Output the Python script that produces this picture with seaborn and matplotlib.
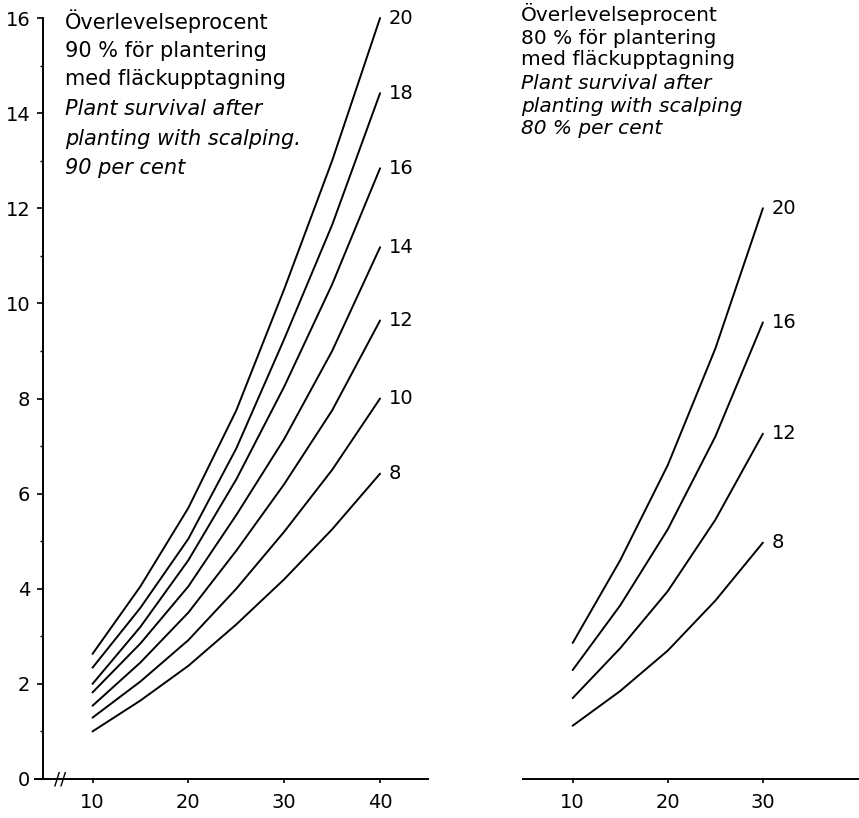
import pandas as pd
import matplotlib.pyplot as plt
import seaborn as sns
from matplotlib.ticker import MultipleLocator

# ==========================================
# data
# ==========================================
X_LEFT = [10, 15, 20, 25, 30, 35, 40]
LEFT_CURVES = {
    20: [2.63, 4.05, 5.70, 7.75, 10.30, 13.00, 16.00],
    18: [2.34, 3.60, 5.05, 6.95, 9.25, 11.65, 14.42],
    16: [2.00, 3.20, 4.60, 6.30, 8.25, 10.40, 12.84],
    14: [1.82, 2.85, 4.05, 5.55, 7.15, 9.00, 11.18],
    12: [1.54, 2.45, 3.50, 4.80, 6.20, 7.75, 9.64],
    10: [1.29, 2.05, 2.92, 4.00, 5.20, 6.50, 8.00],
    8: [1.00, 1.65, 2.38, 3.25, 4.20, 5.25, 6.42],
}

X_RIGHT = [10, 15, 20, 25, 30]
RIGHT_CURVES = {
    20: [2.86, 4.60, 6.60, 9.05, 12.00],
    16: [2.29, 3.65, 5.25, 7.20, 9.60],
    12: [1.70, 2.75, 3.95, 5.45, 7.26],
    8: [1.12, 1.85, 2.70, 3.75, 4.97],
}

LEFT_TEXT = ["Överlevelseprocent", "90 % för plantering", "med fläckupptagning",
             "Plant survival after", "planting with scalping.", "90 per cent"]
RIGHT_TEXT = ["Överlevelseprocent", "80 % för plantering", "med fläckupptagning",
              "Plant survival after", "planting with scalping", "80 % per cent"]
ITALIC = [False, False, False, True, True, True]

LEFT_XTICKS = [10, 20, 30, 40]
RIGHT_XTICKS = [10, 20, 30]
YTICKS = [0, 2, 4, 6, 8, 10, 12, 14, 16]

# ==========================================
# style
# ==========================================
sns.set_theme(style="white")
plt.rcParams['font.family'] = ['DejaVu Sans']
plt.rcParams['axes.linewidth'] = 1.4
for k in ['text.color', 'axes.labelcolor', 'xtick.color', 'ytick.color', 'axes.edgecolor']:
    plt.rcParams[k] = 'black'

W, H = 859, 818
fig = plt.figure(figsize=(W / 100, H / 100), dpi=100)
fig.patch.set_facecolor("white")

# axes placed in pixel terms: y=0 at row 779, y=16 at row 18
AX_BOTTOM = (H - 779) / H
AX_HEIGHT = (779 - 18) / H
ax_l = fig.add_axes([35 / W, AX_BOTTOM, 393 / W, AX_HEIGHT])
ax_r = fig.add_axes([523 / W, AX_BOTTOM, 336 / W, AX_HEIGHT])


def long_frame(xs, curves):
    rows = []
    for key, ys in curves.items():
        for x, y in zip(xs, ys):
            rows.append({"x": x, "y": y, "curve": str(key)})
    return pd.DataFrame(rows)


def draw_panel(ax, xs, curves):
    df = long_frame(xs, curves)
    pal = {str(k): "black" for k in curves}
    sns.lineplot(data=df, x="x", y="y", hue="curve", palette=pal,
                 linewidth=1.4, legend=False, ax=ax)
    for line in ax.lines:
        line.set_clip_on(False)
        line.set_solid_joinstyle("round")
    # curve labels at the end of each curve
    for key, ys in curves.items():
        ax.text(xs[-1] + 0.9, ys[-1], str(key), fontsize=14,
                ha="left", va="center", color="black")
    ax.set_xlabel("")
    ax.set_ylabel("")
    ax.set_facecolor("white")
    ax.set_ylim(0, 16)
    for s in ["top", "right"]:
        ax.spines[s].set_visible(False)


# ---- left panel
draw_panel(ax_l, X_LEFT, LEFT_CURVES)
ax_l.set_xlim(4.0, 45.0)
ax_l.spines["left"].set_position(("data", 4.8))
ax_l.set_yticks(YTICKS)
ax_l.yaxis.set_minor_locator(MultipleLocator(1))
ax_l.set_xticks(LEFT_XTICKS)
ax_l.tick_params(axis="y", which="major", direction="out", length=4, width=1.2,
                 pad=5, labelsize=14, left=True)
ax_l.tick_params(axis="y", which="minor", direction="out", length=2.5, width=1.0,
                 left=True)
ax_l.tick_params(axis="x", direction="out", length=3, width=1.2, pad=7,
                 labelsize=14, bottom=True)
# axis break mark
ax_l.text(6.6, 0, "//", fontsize=13, ha="center", va="center", color="black")

# ---- right panel
draw_panel(ax_r, X_RIGHT, RIGHT_CURVES)
ax_r.set_xlim(4.78, 40.1)
ax_r.spines["left"].set_visible(False)
ax_r.set_yticks([])
ax_r.set_xticks(RIGHT_XTICKS)
ax_r.tick_params(axis="x", direction="out", length=3, width=1.2, pad=7,
                 labelsize=14, bottom=True)

# ---- explanatory text blocks (baseline rows in pixels)
left_rows = [29, 57, 85, 115, 145, 174]
right_rows = [21, 44, 65, 89, 112, 134]
for txt, it, row in zip(LEFT_TEXT, ITALIC, left_rows):
    ax_l.text((65 - 35) / 393, (779 - row) / 761, txt, transform=ax_l.transAxes,
              fontsize=15, style="italic" if it else "normal",
              ha="left", va="baseline", color="black")
for txt, it, row in zip(RIGHT_TEXT, ITALIC, right_rows):
    ax_r.text((521 - 523) / 336, (779 - row) / 761, txt, transform=ax_r.transAxes,
              fontsize=14.5, style="italic" if it else "normal",
              ha="left", va="baseline", color="black")

fig.savefig("out.png", dpi=100, facecolor="white")
